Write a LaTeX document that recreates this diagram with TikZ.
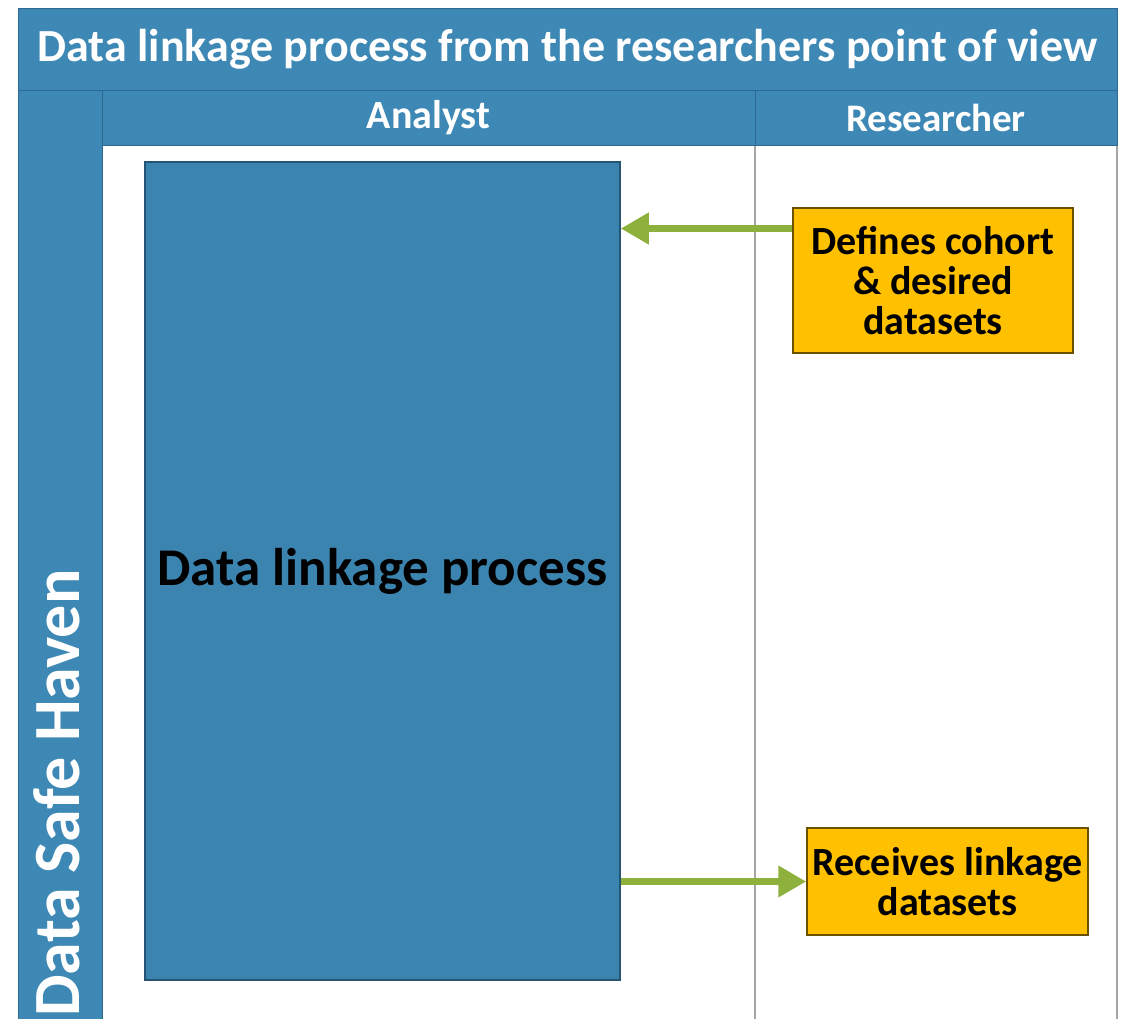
\documentclass[tikz,border=0pt]{standalone}
\usepackage{fontspec}
\setmainfont{Carlito}
\usetikzlibrary{shapes.geometric, arrows.meta}

\definecolor{laneblue}{HTML}{3E88B5}
\definecolor{laneline}{HTML}{2E6A90}
\definecolor{taskyellow}{HTML}{FFC000}
\definecolor{taskline}{HTML}{6B5200}
\definecolor{flowgreen}{HTML}{8DB13C}

\begin{document}
\begin{tikzpicture}[x=1pt,y=-1pt]
			\tikzstyle{Band} = [rectangle, inner sep=0pt, text centered, draw=laneline, line width=1pt, fill=laneblue, text=white, font=\bfseries]
			\tikzstyle{Lane} = [rectangle, inner sep=0pt, draw=gray!70, line width=1.5pt, fill=white]
			\tikzstyle{Process} = [rectangle, inner sep=0pt, minimum width=475pt, minimum height=818pt, text centered, draw=laneline!80!black, line width=1.5pt, fill=laneblue!97!black, font=\bfseries\fontsize{53}{56}\selectfont]
			\tikzstyle{Task} = [rectangle, inner sep=0pt, align=center, draw=taskline, line width=1.5pt, fill=taskyellow, font=\bfseries\fontsize{40}{40}\selectfont]
			\tikzstyle{arrow} = [line width=7pt, flowgreen, -{Triangle[length=28pt, width=30pt]}]

			\useasboundingbox (0,0) rectangle (1127,1018);

			% swimlane frame (runs off the bottom edge)
			\node (analystLane) [Lane, minimum width=653pt, minimum height=879pt] at (428.5,584.5) {};
			\node (researcherLane) [Lane, minimum width=362pt, minimum height=879pt] at (936,584.5) {};
			\node (titleBand) [Band, minimum width=1099pt, minimum height=82pt, font=\bfseries\fontsize{46}{48}\selectfont] at (567.5,49) {Data linkage process from the researchers point of view};
			\node (havenBand) [Band, minimum width=84pt, minimum height=934pt] at (60,557) {};
			\node (havenLabel) [rotate=90, text=white, font=\bfseries\fontsize{66}{68}\selectfont] at (57,793) {Data Safe Haven};
			\node (analystHead) [Band, minimum width=653pt, minimum height=55pt, font=\bfseries\fontsize{40}{40}\selectfont] at (428.5,117.5) {Analyst};
			\node (researcherHead) [Band, minimum width=362pt, minimum height=55pt, font=\bfseries\fontsize{39}{40}\selectfont] at (936,117.5) {Researcher};

			% process and tasks
			\node (linkage) [Process] at (382.5,571) {Data linkage process};
			\node (cohortTask) [Task, minimum width=280pt, minimum height=145pt] at (933,280.5) {Defines cohort\\\& desired\\datasets};
			\node (receiveTask) [Task, minimum width=281pt, minimum height=107pt] at (947.5,881.5) {Receives linkage\\datasets};

			\draw [arrow] ([yshift=52pt]cohortTask.west) -- ([yshift=52pt]cohortTask.west -| linkage.east);
			\draw [arrow] (linkage.east |- receiveTask.west) -- (receiveTask.west);
		\end{tikzpicture}
\end{document}
